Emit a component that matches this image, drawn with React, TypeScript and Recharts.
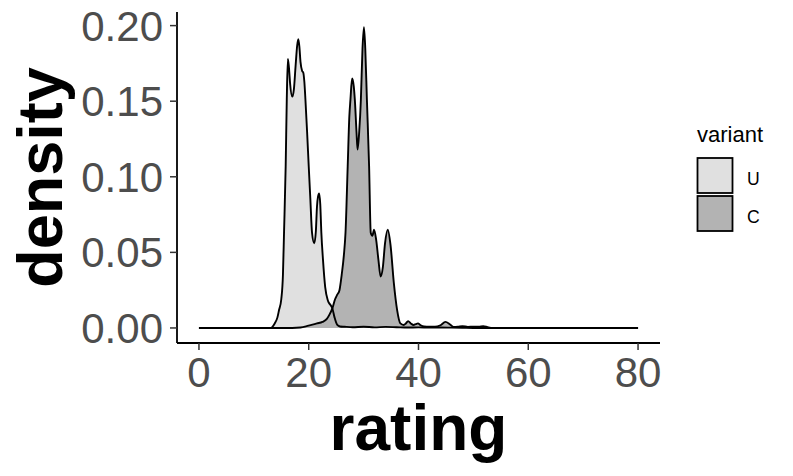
import React from 'react';
import { ComposedChart, Area, XAxis, YAxis, Label } from 'recharts';

const xTicks = [0, 20, 40, 60, 80];
const yTicks = [0, 0.05, 0.1, 0.15, 0.2];
const variants = ['U', 'C'];
const variantFills = ['#E0E0E0', '#B3B3B3'];

const uRating = [0, 5, 10, 12, 13.1, 13.8, 14.3, 14.6, 15.0, 15.3, 15.5, 15.8, 16.0, 16.2, 16.4, 16.6, 17.0, 17.3, 17.6, 17.9, 18.1, 18.3, 18.5, 18.8, 19.0, 19.2, 19.4, 19.7, 20.0, 20.3, 20.6, 21.0, 21.3, 21.5, 21.7, 21.9, 22.1, 22.3, 22.6, 23.0, 23.5, 24.0, 24.3, 24.7, 25.2, 25.7, 26.5, 28, 30, 32, 34, 36, 38, 40, 42, 44, 46, 48, 50, 52, 60, 70, 80];
const uDensity = [0, 0, 0, 0, 0, 0.003, 0.007, 0.012, 0.019, 0.035, 0.063, 0.107, 0.151, 0.178, 0.172, 0.162, 0.153, 0.158, 0.173, 0.187, 0.191, 0.186, 0.176, 0.170, 0.169, 0.163, 0.151, 0.130, 0.107, 0.085, 0.063, 0.056, 0.064, 0.080, 0.087, 0.089, 0.082, 0.063, 0.045, 0.027, 0.018, 0.015, 0.013, 0.007, 0.002, 0.001, 0.0008, 0.0005, 0.0008, 0.0004, 0.0007, 0.0005, 0.0003, 0.0004, 0.0002, 0.0003, 0.0002, 0.0001, 0, 0, 0, 0, 0];

const cRating = [0, 10, 17, 18.5, 19.5, 20.5, 21.5, 22.5, 23.3, 23.8, 24.3, 24.8, 25.2, 25.6, 26.0, 26.4, 26.7, 27.1, 27.4, 27.6, 27.9, 28.2, 28.4, 28.7, 28.9, 29.2, 29.5, 29.8, 30.06, 30.3, 30.6, 31.0, 31.3, 31.6, 31.9, 32.3, 32.7, 33.1, 33.5, 33.9, 34.4, 34.9, 35.5, 36.1, 36.7, 37.3, 37.7, 38.1, 38.6, 39.1, 39.5, 39.9, 40.4, 41.0, 42.0, 43.0, 44.0, 44.9, 45.7, 46.4, 47.2, 48.0, 49.0, 50.0, 51.0, 51.8, 52.6, 53.5, 60, 70, 80];
const cDensity = [0, 0, 0, 0.0003, 0.001, 0.002, 0.003, 0.004, 0.006, 0.009, 0.013, 0.019, 0.022, 0.025, 0.035, 0.048, 0.063, 0.107, 0.140, 0.151, 0.165, 0.160, 0.151, 0.130, 0.118, 0.130, 0.151, 0.185, 0.199, 0.185, 0.151, 0.107, 0.063, 0.061, 0.065, 0.058, 0.045, 0.034, 0.040, 0.056, 0.065, 0.055, 0.030, 0.012, 0.003, 0.002, 0.003, 0.0045, 0.003, 0.002, 0.0025, 0.003, 0.0018, 0.001, 0.0008, 0.0008, 0.0018, 0.004, 0.0025, 0.0006, 0.0008, 0.0012, 0.0007, 0.0009, 0.0008, 0.0012, 0.0005, 0, 0, 0, 0];

const uData = uRating.map((r, i) => ({ rating: r, density: uDensity[i] }));
const cData = cRating.map((r, i) => ({ rating: r, density: cDensity[i] }));

const FONT = '"Liberation Sans", Arial, Helvetica, sans-serif';

const LegendBox = () => (
  <svg width={100} height={120} style={{ display: 'block' }}>
    <text x={7} y={22} fontSize={22} fontFamily={FONT} fill="#000">variant</text>
    {variants.map((v, i) => (
      <g key={v}>
        <rect x={7.5} y={38 + i * 38} width={35} height={35} fill={variantFills[i]} stroke="#000" strokeWidth={1.8} />
        <text x={57} y={65 + i * 38} fontSize={17.6} fontFamily={FONT} fill="#000">{v}</text>
      </g>
    ))}
  </svg>
);

export default function App() {
  return (
    <div style={{ position: 'absolute', left: 0, top: 0, width: 793, height: 476, background: '#fff' }}>
      <ComposedChart width={793} height={476} margin={{ top: 12, right: 133, bottom: 73, left: 57 }}>
        <XAxis
          type="number"
          dataKey="rating"
          domain={[-4, 84]}
          ticks={xTicks}
          interval={0}
          allowDataOverflow
          height={60}
          tickSize={7}
          tickMargin={7}
          axisLine={{ stroke: '#000', strokeWidth: 1.8 }}
          tickLine={{ stroke: '#333', strokeWidth: 1.5 }}
          tick={{ fontSize: 42, fill: '#4D4D4D', fontFamily: FONT }}
        >
          <Label
            content={(props: any) => {
              const vb = props.viewBox || {};
              return (
                <text x={vb.x + vb.width / 2} y={vb.y + 107} textAnchor="middle" fontSize={64} fontWeight="bold" fontFamily={FONT} fill="#000">
                  rating
                </text>
              );
            }}
          />
        </XAxis>
        <YAxis
          type="number"
          domain={[-0.00995, 0.209]}
          ticks={yTicks}
          interval={0}
          allowDataOverflow
          width={120}
          tickSize={7}
          tickMargin={7}
          tickFormatter={(v: number) => v.toFixed(2)}
          axisLine={{ stroke: '#000', strokeWidth: 1.8 }}
          tickLine={{ stroke: '#333', strokeWidth: 1.5 }}
          tick={{ fontSize: 42, fill: '#4D4D4D', fontFamily: FONT }}
        >
          <Label
            content={(props: any) => {
              const vb = props.viewBox || {};
              const cx = vb.x + 5;
              const cy = vb.y + vb.height / 2;
              return (
                <text x={cx} y={cy} transform={`rotate(-90 ${cx} ${cy})`} textAnchor="middle" fontSize={63} fontWeight="bold" fontFamily={FONT} fill="#000">
                  density
                </text>
              );
            }}
          />
        </YAxis>
        <Area data={uData} dataKey="density" type="monotone" fill={variantFills[0]} fillOpacity={1} stroke="none" baseValue={0} isAnimationActive={false} />
        <Area data={cData} dataKey="density" type="monotone" fill={variantFills[1]} fillOpacity={1} stroke="none" baseValue={0} isAnimationActive={false} />
        <Area data={uData} dataKey="density" type="monotone" fill="none" stroke="#000" strokeWidth={1.9} baseValue={0} isAnimationActive={false} />
        <Area data={cData} dataKey="density" type="monotone" fill="none" stroke="#000" strokeWidth={1.9} baseValue={0} isAnimationActive={false} />
      </ComposedChart>
      <div style={{ position: 'absolute', left: 690, top: 120 }}>
        <LegendBox />
      </div>
    </div>
  );
}
